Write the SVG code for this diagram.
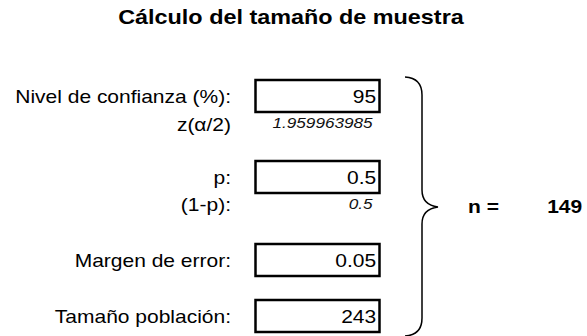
<svg xmlns="http://www.w3.org/2000/svg" width="587" height="336" viewBox="0 0 587 336">
<style>
.t{font-family:"Liberation Sans",Arial,sans-serif;fill:#000}
.lbl{font-size:17.5px;text-anchor:end}
.val{font-size:17.5px;text-anchor:end}
.it{font-size:14.3px;font-style:italic;text-anchor:end;fill:#111}
.b{font-weight:bold}
.box{fill:#fff;stroke:#000;stroke-width:2.5}
.brace{fill:none;stroke:#000;stroke-width:1.5}
</style>
<rect width="587" height="336" fill="#fff"/>
<g id="title" transform="scale(1.2 1)">
<text class="t b" x="242.5" y="24" font-size="19.5" text-anchor="middle">Cálculo del tamaño de muestra</text>
</g>
<g id="nivel">
<rect class="box" x="255.5" y="80" width="124" height="32"/>
<g transform="scale(1.2 1)">
<text class="t lbl" x="192.5" y="103">Nivel de confianza (%):</text>
<text class="t val" x="313.5" y="103">95</text>
</g>
</g>
<g id="z">
<g transform="scale(1.2 1)">
<text class="t lbl" x="192.5" y="131">z(α/2)</text>
<text class="t it" x="310.5" y="128">1.959963985</text>
</g>
</g>
<g id="p">
<rect class="box" x="255.5" y="161" width="124" height="32"/>
<g transform="scale(1.2 1)">
<text class="t lbl" x="192.5" y="184">p:</text>
<text class="t val" x="313.5" y="184">0.5</text>
</g>
</g>
<g id="q">
<g transform="scale(1.2 1)">
<text class="t lbl" x="192.5" y="211">(1-p):</text>
<text class="t it" x="310.5" y="209">0.5</text>
</g>
</g>
<g id="margen">
<rect class="box" x="255.5" y="244" width="124" height="32"/>
<g transform="scale(1.2 1)">
<text class="t lbl" x="192.5" y="267">Margen de error:</text>
<text class="t val" x="313.5" y="267">0.05</text>
</g>
</g>
<g id="poblacion">
<rect class="box" x="255.5" y="300" width="124" height="32"/>
<g transform="scale(1.2 1)">
<text class="t lbl" x="192.5" y="323">Tamaño población:</text>
<text class="t val" x="313.5" y="323">243</text>
</g>
</g>
<g id="connectors">
<path class="brace" d="M405,77 Q422,78 422,95 L422,190 Q422,205 438,207 Q422,209 422,224 L422,318 Q422,335 405,336"/>
</g>
<g id="result" transform="scale(1.2 1)">
<text class="t b" x="390" y="213" font-size="17.5">n =</text>
<text class="t b" x="456" y="213" font-size="17.5">149</text>
</g>
</svg>
